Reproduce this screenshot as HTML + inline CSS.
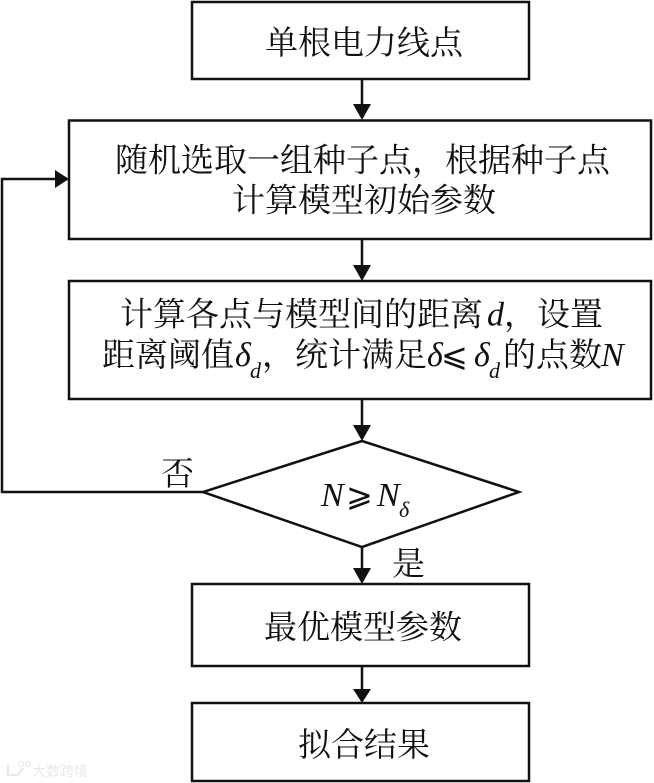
<!DOCTYPE html>
<html><head><meta charset="utf-8"><style>
html,body{margin:0;padding:0;background:#fff}
svg{display:block}
.c{font-family:"Liberation Serif","Noto Serif CJK SC",serif;font-size:33px;fill:#111}
.i{font-family:"Liberation Serif",serif;font-style:italic;font-size:34px;fill:#111}
.s{font-family:"Liberation Serif",serif;font-style:italic;font-size:22px;fill:#111}
.m{font-family:"DejaVu Sans","Liberation Serif",sans-serif;font-size:32px;fill:#111}
</style></head><body>
<svg width="654" height="783" viewBox="0 0 654 783" xmlns="http://www.w3.org/2000/svg">
<g fill="#fff" stroke="#111" stroke-width="2.5">
<rect x="192" y="2" width="337" height="77"/>
<rect x="69" y="120.500" width="582" height="118.500"/>
<rect x="69" y="281" width="582" height="118"/>
<polygon points="362,441 519,492 362,547 203,492"/>
<rect x="192" y="584" width="337" height="82"/>
<rect x="192" y="703" width="337" height="78"/>
</g>
<g fill="none" stroke="#111" stroke-width="2.500">
<path d="M362 80V106M362 240V267M362 400V427M362 547V570M362 666V689M203 492H2V179H56"/>
</g>
<g fill="#111">
<polygon points="353,104 371,104 362,120"/>
<polygon points="353,265 371,265 362,281"/>
<polygon points="353,425 371,425 362,441"/>
<polygon points="353,568 371,568 362,584"/>
<polygon points="353,689 371,689 362,703"/>
<polygon points="55,170 55,188 69,179"/>
</g>
<text class="c" x="265" y="54">单根电力线点</text>
<text class="c" x="115" y="171.500">随机选取一组种子点，根据种子点</text>
<text class="c" x="232" y="211.500">计算模型初始参数</text>
<text class="c" x="120" y="325.500">计算各点与模型间的距离</text>
<text class="i" x="487" y="325.500">d</text>
<text class="c" x="504" y="325.500">，设置</text>
<text class="c" x="102" y="366">距离阈值</text>
<text class="i" x="235" y="366">δ</text>
<text class="s" x="250" y="378">d</text>
<text class="c" x="262" y="366">，统计满足</text>
<text class="i" x="427" y="366">δ</text>
<text class="m" x="441" y="366">⩽</text>
<text class="i" x="474" y="366">δ</text>
<text class="s" x="489" y="378">d</text>
<text class="c" x="503" y="366">的点数</text>
<text class="i" x="601" y="366">N</text>
<text class="i" x="321" y="506">N</text>
<text class="m" x="346" y="506">⩾</text>
<text class="i" x="377" y="506">N</text>
<text class="s" x="399" y="517">δ</text>
<text class="c" x="161" y="485">否</text>
<text class="c" x="392" y="575">是</text>
<text class="c" x="264" y="638.500">最优模型参数</text>
<text class="c" x="298" y="756">拟合结果</text>
<g opacity=".22" fill="#999">
<text x="32" y="776" style="font-family:'Noto Sans CJK SC',sans-serif;font-size:14px">大数跨境</text>
<circle cx="21" cy="764" r="2.500" fill="none" stroke="#999"/>
<circle cx="28" cy="764" r="2.500" fill="none" stroke="#999"/>
<path d="M8 764V775H18L23 768" fill="none" stroke="#999" stroke-width="2"/>
</g>
</svg>
</body></html>
